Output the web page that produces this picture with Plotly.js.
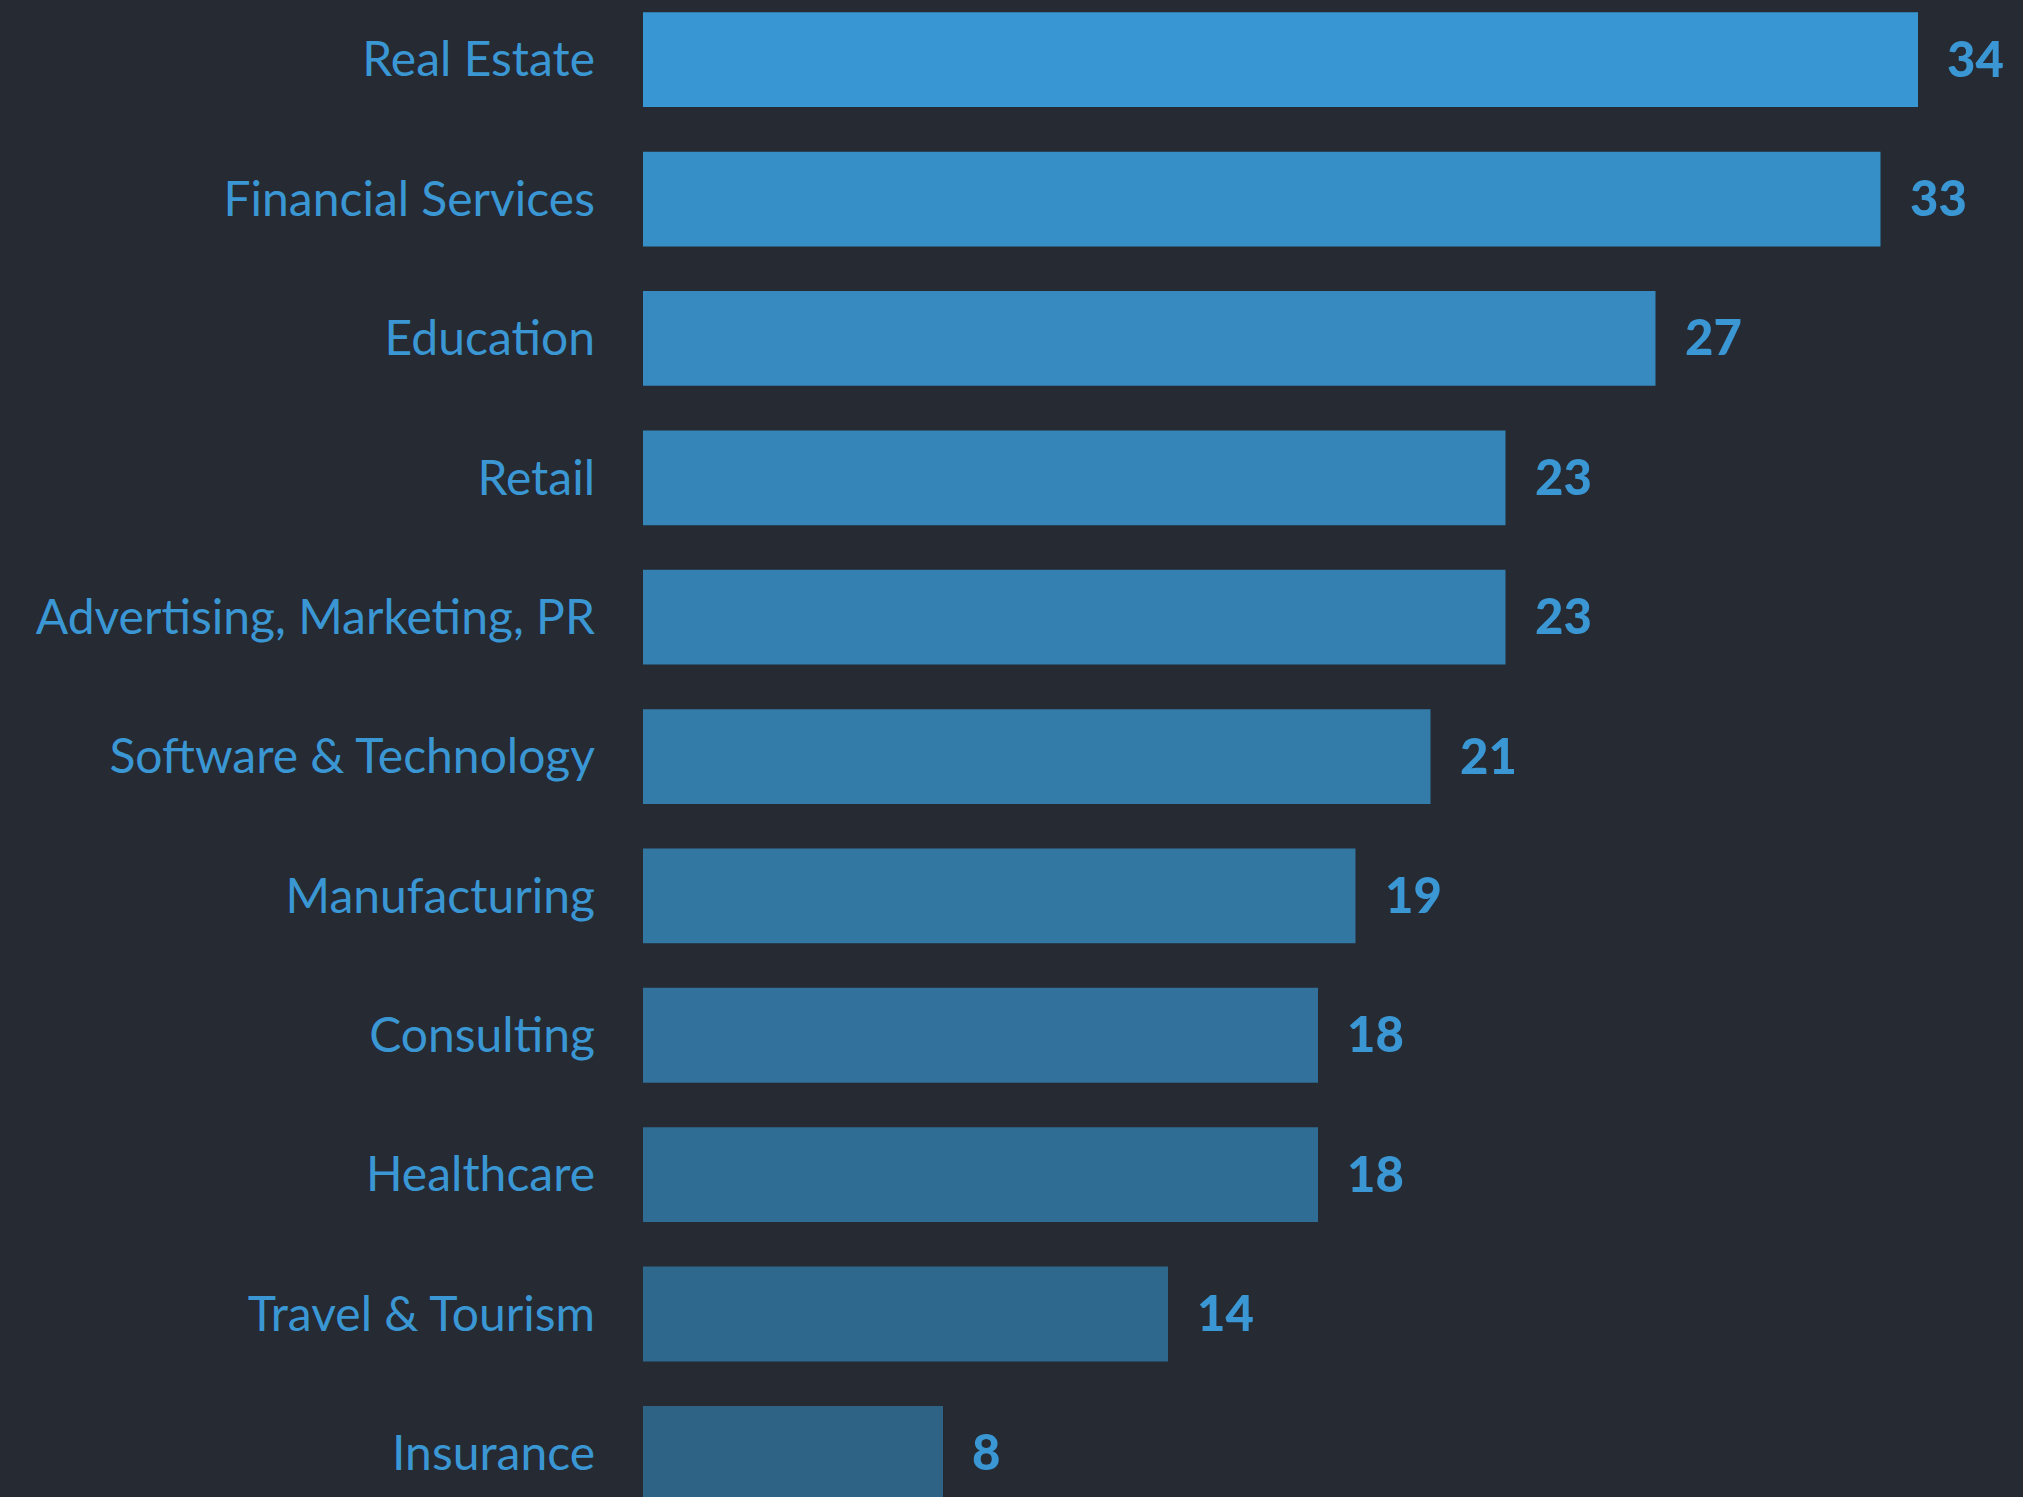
<!DOCTYPE html>
<html>
<head>
<meta charset="utf-8">
<script src="https://cdn.plot.ly/plotly-3.0.1.min.js"></script>
<style>
  html, body { margin: 0; padding: 0; background: #252a33; }
  #chart { width: 2023px; height: 1497px; }
</style>
</head>
<body>
<div id="chart"></div>
<script>
var industries = ['Real Estate', 'Financial Services', 'Education', 'Retail',
  'Advertising, Marketing, PR', 'Software & Technology', 'Manufacturing',
  'Consulting', 'Healthcare', 'Travel & Tourism', 'Insurance'];
var counts = [34, 33, 27, 23, 23, 21, 19, 18, 18, 14, 8];

// bars darken from top to bottom
var barColors = ['#3897d3', '#378fc8', '#368abf', '#3585b8', '#3480b1', '#337caa',
  '#3276a2', '#31719b', '#306d94', '#2f688d', '#2e6386'];

var labelBlue = '#3a97d4';

var trace = {
  type: 'bar',
  orientation: 'h',
  x: counts,
  y: industries,
  width: 0.68,
  marker: { color: barColors },
  hoverinfo: 'x+y'
};

var notes = counts.map(function (v, i) {
  return {
    x: v, y: industries[i],
    xref: 'x', yref: 'y',
    text: String(v),
    showarrow: false,
    xanchor: 'left',
    xshift: 27,
    yshift: 2,
    font: { family: 'Lato', size: 49, color: labelBlue, weight: 900 }
  };
});

var layout = {
  paper_bgcolor: '#252a33',
  plot_bgcolor: '#252a33',
  margin: { l: 643, r: 0, t: 0, b: 0 },
  showlegend: false,
  xaxis: {
    range: [0, 36.8],
    visible: false,
    fixedrange: true
  },
  yaxis: {
    type: 'category',
    range: [10.313, -0.428],
    showgrid: false,
    zeroline: false,
    showline: false,
    ticks: '',
    ticklabelstandoff: 47,
    tickfont: { family: 'Lato', size: 48, color: labelBlue }
  },
  annotations: notes
};

Plotly.newPlot('chart', [trace], layout, { displayModeBar: false, staticPlot: true });
</script>
</body>
</html>
